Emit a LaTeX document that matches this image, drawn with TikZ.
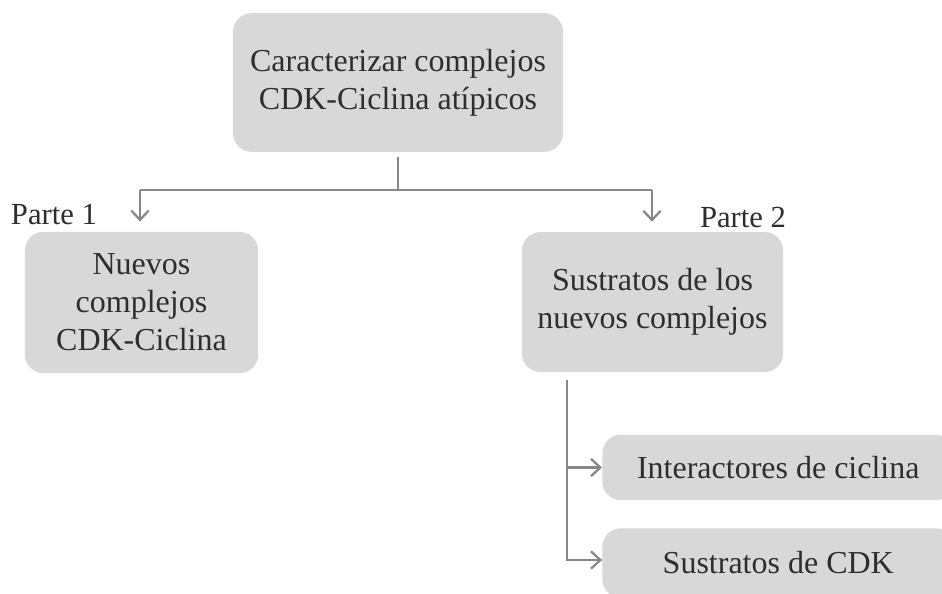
\documentclass[tikz,border=0pt]{standalone}
\usepackage{fontspec}
\setmainfont{Liberation Serif}
\usetikzlibrary{arrows.meta}
\definecolor{boxgray}{HTML}{D8D8D8}
\definecolor{linegray}{HTML}{878787}
\definecolor{txt}{HTML}{2E2E2E}
\begin{document}
\begin{tikzpicture}[x=0.75pt,y=-0.75pt,
  box/.style={fill=boxgray, draw=none, rounded corners=14pt, align=center, text=txt,
    font=\fontsize{24}{28.5}\selectfont, inner sep=0pt},
  lbl/.style={text=txt, font=\fontsize{23}{28}\selectfont, inner sep=0pt},
  conn/.style={draw=linegray, line width=1.7pt},
  arr/.style={conn, -{Straight Barb[length=7pt,width=13pt,line width=1.7pt]}}]
\clip (0,0) rectangle (942,593);
\fill[white] (0,0) rectangle (942,593);
\node[box, minimum width=247.5pt, minimum height=104pt] (top) at (398,82.5)
  {Caracterizar complejos\\CDK-Ciclina atípicos};
\node[box, minimum width=175pt, minimum height=106pt] (p1) at (141.5,302.5)
  {Nuevos\\complejos\\CDK-Ciclina};
\node[box, minimum width=196pt, minimum height=105pt] (p2) at (652.5,302)
  {Sustratos de los\\nuevos complejos};
\node[box, anchor=west, minimum width=264pt, minimum height=49pt] (ic) at (602,467.5)
  {Interactores de ciclina};
\node[box, anchor=west, minimum width=264pt, minimum height=52pt] (sc) at (602,563)
  {Sustratos de CDK};
\node[lbl] (l1) at (54,215) {Parte 1};
\node[lbl] (l2) at (743,217) {Parte 2};
\coordinate (j) at (top.south |- 0,190);
\coordinate (jl) at (140,190);
\coordinate (jr) at (652,190);
\draw[conn, shorten <=4pt] (top.south) -- (j);
\draw[conn] (jl) -- (jr);
\draw[arr, shorten >=7.5pt] (jl) -- (jl |- p1.north);
\draw[arr, shorten >=7.5pt] (jr) -- (jr |- p2.north);
\coordinate (v) at (567,380);
\coordinate (vb) at (567,560);
\draw[conn] ([yshift=-6pt]v |- p2.south) -- (vb) -- (sc.west |- vb);
\draw[arr] (vb) -- (sc.west |- vb);
\draw[arr] (v |- ic.west) -- (ic.west);
\end{tikzpicture}
\end{document}
